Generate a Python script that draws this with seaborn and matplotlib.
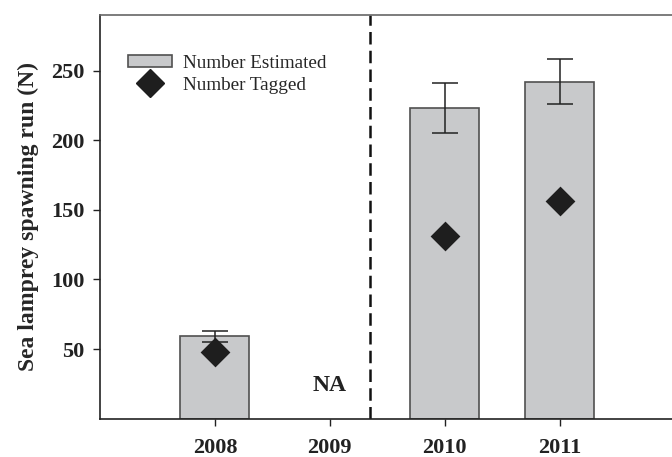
import matplotlib
matplotlib.use("Agg")
import matplotlib.pyplot as plt
import seaborn as sns
import pandas as pd
from matplotlib.patches import Patch
from matplotlib.lines import Line2D

# Sea lamprey spawning run estimates (no survey in 2009)
years = [2008, 2010, 2011]
estimated = [59.5, 223.3, 242.2]
err_low = [55.0, 205.4, 226.3]
err_high = [63.2, 241.4, 258.4]
tagged = [47.5, 131.0, 156.3]
tick_years = [2008, 2009, 2010, 2011]
na_year = 2009
y_ticks = [50, 100, 150, 200, 250]

sns.set_theme(style="white")
plt.rcParams["font.family"] = ["Liberation Serif", "DejaVu Serif"]

df = pd.DataFrame({"year": years, "estimated": estimated, "tagged": tagged})

fig = plt.figure(figsize=(6.72, 4.57), dpi=100)
ax = fig.add_axes([100 / 672, (457 - 418.6) / 457, 574.5 / 672, (418.6 - 15) / 457])

sns.barplot(data=df, x="year", y="estimated", native_scale=True, width=0.6,
            color="#c8c9cb", edgecolor="#505050", linewidth=1.2,
            saturation=1, errorbar=None, ax=ax)

lower = [e - l for e, l in zip(estimated, err_low)]
upper = [h - e for e, h in zip(estimated, err_high)]
ax.errorbar(years, estimated, yerr=[lower, upper], fmt="none",
            ecolor="#222222", elinewidth=1.1, capsize=9.5, capthick=1.1, zorder=3)

sns.scatterplot(data=df, x="year", y="tagged", marker="D", s=230,
                color="#1e1e1e", edgecolor="#1e1e1e", linewidth=0, zorder=4, ax=ax)

ax.axvline(2009.354, color="#111111", linestyle=(0, (5, 2.5)), linewidth=1.8, zorder=2)

ax.text(na_year, 24, "NA", ha="center", va="center", fontsize=17,
        fontweight="bold", color="#222222")

ax.set_xlim(2007, 2012)
ax.set_ylim(0, 290)
ax.set_xticks(tick_years)
ax.set_xticklabels([str(y) for y in tick_years])
ax.set_yticks(y_ticks)
ax.set_yticklabels([str(v) for v in y_ticks])
ax.set_xlabel("")
ax.set_ylabel("Sea lamprey spawning run (N)", fontsize=17, fontweight="bold",
              labelpad=9)
ax.tick_params(axis="both", which="major", direction="out", length=5, width=1,
               color="#222222", labelsize=16, pad=6, bottom=True, left=True)
ax.tick_params(axis="x", pad=9)
for lbl in ax.get_xticklabels() + ax.get_yticklabels():
    lbl.set_fontweight("bold")
    lbl.set_color("#222222")

for side in ["left", "bottom", "top"]:
    ax.spines[side].set_visible(True)
    ax.spines[side].set_color("#222222")
    ax.spines[side].set_linewidth(1.2)
ax.spines["top"].set_color("#666666")
ax.spines["right"].set_visible(False)

handles = [
    Patch(facecolor="#c8c9cb", edgecolor="#505050", linewidth=1.2),
    Line2D([], [], marker="D", linestyle="none", markersize=14,
           color="#1e1e1e"),
]
ax.legend(handles, ["Number Estimated", "Number Tagged"], loc="upper left",
          bbox_to_anchor=(0.035, 0.92), frameon=False, fontsize=13.8,
          handlelength=2.3, handleheight=0.55, handletextpad=0.6,
          labelspacing=0.25, borderaxespad=0)

fig.savefig("out.png", dpi=100)
